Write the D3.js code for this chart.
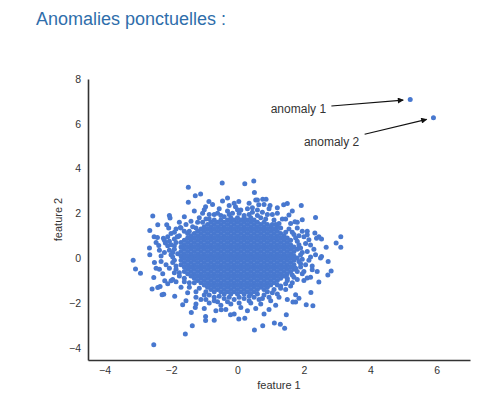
<!DOCTYPE html>
<html>
<head>
<meta charset="utf-8">
<script src="https://cdn.jsdelivr.net/npm/d3@7"></script>
<style>
  body { margin: 0; background: #fff; }
  svg { display: block; font-family: "Liberation Sans", Arial, sans-serif; }
</style>
</head>
<body>
<svg id="chart" width="485" height="397"></svg>
<script>
// dense middle of the cloud, one row per feature 2 value: [feature 2, feature 1 values]
const coreRows = [
  [1.8, [-0.2, 0, 0.2, 0.4]],
  [1.7, [-0.7, -0.5, -0.3, -0.1, 0.1, 0.3, 0.5]],
  [1.6, [-0.8, -0.6, -0.4, -0.2, 0, 0.2, 0.4, 0.6, 0.8]],
  [1.5, [-0.9, -0.7, -0.5, -0.3, -0.1, 0.1, 0.3, 0.5, 0.7, 0.9, 1.05]],
  [1.4, [-1.0, -0.8, -0.6, -0.4, -0.2, 0, 0.2, 0.4, 0.6, 0.8, 1.0, 1.2]],
  [1.3, [-1.1, -0.9, -0.7, -0.5, -0.3, -0.1, 0.1, 0.3, 0.5, 0.7, 0.9, 1.1]],
  [1.2, [-1.2, -1.0, -0.8, -0.6, -0.4, -0.2, 0, 0.2, 0.4, 0.6, 0.8, 1.0, 1.2]],
  [1.1, [-1.5, -1.3, -1.1, -0.9, -0.7, -0.5, -0.3, -0.1, 0.1, 0.3, 0.5, 0.7, 0.9, 1.1, 1.3]],
  [1.0, [-1.4, -1.2, -1.0, -0.8, -0.6, -0.4, -0.2, 0, 0.2, 0.4, 0.6, 0.8, 1.0, 1.2, 1.4]],
  [0.9, [-1.5, -1.3, -1.1, -0.9, -0.7, -0.5, -0.3, -0.1, 0.1, 0.3, 0.5, 0.7, 0.9, 1.1, 1.3, 1.5]],
  [0.8, [-1.6, -1.4, -1.2, -1.0, -0.8, -0.6, -0.4, -0.2, 0, 0.2, 0.4, 0.6, 0.8, 1.0, 1.2, 1.4, 1.6]],
  [0.7, [-1.7, -1.5, -1.3, -1.1, -0.9, -0.7, -0.5, -0.3, -0.1, 0.1, 0.3, 0.5, 0.7, 0.9, 1.1, 1.3, 1.5]],
  [0.6, [-1.6, -1.4, -1.2, -1.0, -0.8, -0.6, -0.4, -0.2, 0, 0.2, 0.4, 0.6, 0.8, 1.0, 1.2, 1.4, 1.6]],
  [0.5, [-1.7, -1.5, -1.3, -1.1, -0.9, -0.7, -0.5, -0.3, -0.1, 0.1, 0.3, 0.5, 0.7, 0.9, 1.1, 1.3, 1.5, 1.7]],
  [0.4, [-1.6, -1.4, -1.2, -1.0, -0.8, -0.6, -0.4, -0.2, 0, 0.2, 0.4, 0.6, 0.8, 1.0, 1.2, 1.4, 1.6, 1.8]],
  [0.3, [-1.7, -1.5, -1.3, -1.1, -0.9, -0.7, -0.5, -0.3, -0.1, 0.1, 0.3, 0.5, 0.7, 0.9, 1.1, 1.3, 1.5, 1.7]],
  [0.2, [-1.8, -1.6, -1.4, -1.2, -1.0, -0.8, -0.6, -0.4, -0.2, 0, 0.2, 0.4, 0.6, 0.8, 1.0, 1.2, 1.4, 1.6]],
  [0.1, [-1.7, -1.5, -1.3, -1.1, -0.9, -0.7, -0.5, -0.3, -0.1, 0.1, 0.3, 0.5, 0.7, 0.9, 1.1, 1.3, 1.5, 1.7]],
  [0.0, [-1.6, -1.4, -1.2, -1.0, -0.8, -0.6, -0.4, -0.2, 0, 0.2, 0.4, 0.6, 0.8, 1.0, 1.2, 1.4, 1.6, 1.8]],
  [-0.1, [-1.7, -1.5, -1.3, -1.1, -0.9, -0.7, -0.5, -0.3, -0.1, 0.1, 0.3, 0.5, 0.7, 0.9, 1.1, 1.3, 1.5, 1.7]],
  [-0.2, [-1.6, -1.4, -1.2, -1.0, -0.8, -0.6, -0.4, -0.2, 0, 0.2, 0.4, 0.6, 0.8, 1.0, 1.2, 1.4, 1.6]],
  [-0.3, [-1.7, -1.5, -1.3, -1.1, -0.9, -0.7, -0.5, -0.3, -0.1, 0.1, 0.3, 0.5, 0.7, 0.9, 1.1, 1.3, 1.5, 1.7]],
  [-0.4, [-1.6, -1.4, -1.2, -1.0, -0.8, -0.6, -0.4, -0.2, 0, 0.2, 0.4, 0.6, 0.8, 1.0, 1.2, 1.4, 1.6]],
  [-0.5, [-1.5, -1.3, -1.1, -0.9, -0.7, -0.5, -0.3, -0.1, 0.1, 0.3, 0.5, 0.7, 0.9, 1.1, 1.3, 1.5, 1.7]],
  [-0.6, [-1.6, -1.4, -1.2, -1.0, -0.8, -0.6, -0.4, -0.2, 0, 0.2, 0.4, 0.6, 0.8, 1.0, 1.2, 1.4, 1.6]],
  [-0.7, [-1.5, -1.3, -1.1, -0.9, -0.7, -0.5, -0.3, -0.1, 0.1, 0.3, 0.5, 0.7, 0.9, 1.1, 1.3, 1.5]],
  [-0.8, [-1.4, -1.2, -1.0, -0.8, -0.6, -0.4, -0.2, 0, 0.2, 0.4, 0.6, 0.8, 1.0, 1.2, 1.4]],
  [-0.9, [-1.3, -1.1, -0.9, -0.7, -0.5, -0.3, -0.1, 0.1, 0.3, 0.5, 0.7, 0.9, 1.1, 1.3, 1.5]],
  [-1.0, [-1.2, -1.0, -0.8, -0.6, -0.4, -0.2, 0, 0.2, 0.4, 0.6, 0.8, 1.0, 1.2]],
  [-1.1, [-1.3, -1.1, -0.9, -0.7, -0.5, -0.3, -0.1, 0.1, 0.3, 0.5, 0.7, 0.9, 1.1]],
  [-1.2, [-1.0, -0.8, -0.6, -0.4, -0.2, 0, 0.2, 0.4, 0.6, 0.8, 1.0, 1.2]],
  [-1.3, [-0.9, -0.7, -0.5, -0.3, -0.1, 0.1, 0.3, 0.5, 0.7, 0.9]],
  [-1.4, [-0.8, -0.6, -0.4, -0.2, 0, 0.2, 0.4, 0.6, 0.8]],
  [-1.5, [-0.7, -0.5, -0.3, -0.1, 0.1, 0.3, 0.5]],
  [-1.6, [-0.4, -0.2, 0, 0.2, 0.4]]
]

// points just outside the dense part, they roughen its edge
const edgePoints = [
  [-1.25, 1.35], [-1.45, 1.2], [-1.05, 1.6], [-0.85, 1.75], [-0.5, 1.9], [0.05, 2.0], [0.35, 1.95],
  [0.6, 1.9], [0.85, 1.75], [1.3, 1.35], [1.45, 1.15], [1.15, 1.5], [-0.25, 1.95],
  [-1.8, 0.95], [-1.9, 0.55], [-1.95, 0.25], [-1.9, -0.1], [-1.85, -0.35], [-1.75, -0.65],
  [-1.6, -0.9], [-1.45, -1.1], [-2.05, 0.75],
  [1.75, 0.9], [1.9, 0.45], [1.95, 0.25], [1.9, -0.25], [1.8, -0.6], [1.7, -0.85], [1.45, -1.15],
  [1.3, -1.25], [1.65, 1.15],
  [-1.15, -1.35], [-0.95, -1.5], [-0.85, -1.65], [-0.55, -1.7], [-0.25, -1.75], [0.05, -1.75],
  [0.35, -1.7], [0.6, -1.6], [0.9, -1.5], [1.1, -1.4], [0.75, -1.8], [-0.7, -1.9]
]

// crowded band around the dense part
const ringPoints = [
  [-0.7, 1.95], [-0.4, 1.85], [-0.15, 2.0], [0.2, 1.9], [0.45, 2.05], [0.7, 1.8], [0.9, 1.95],
  [1.1, 1.7], [1.25, 1.55], [-0.95, 1.75], [-1.2, 1.6], [-1.35, 1.4], [-0.55, 2.2], [0.3, 2.2],
  [0.95, 2.2], [1.2, 2.0], [-0.25, 2.35], [0.6, 2.15], [-1.05, 2.0], [1.45, 1.75],
  [-1.6, 1.2], [-1.75, 1.0], [-1.85, 0.7], [-1.9, 0.4], [-2.0, 0.15], [-1.95, -0.2], [-1.85, -0.5],
  [-1.75, -0.8], [-1.6, -1.05], [-2.1, 0.55], [-2.2, 0.25], [-2.05, -0.45], [-2.25, -0.7],
  [-1.95, -0.95], [-1.55, 1.5], [-1.9, 1.15], [-2.3, -0.15], [-1.45, -1.3], [-2.1, 0.95], [-2.35, 0.35],
  [1.55, 1.3], [1.7, 1.05], [1.8, 0.75], [1.85, 0.45], [1.9, 0.15], [1.85, -0.15], [1.75, -0.45],
  [1.65, -0.75], [1.5, -1.0], [2.0, 0.95], [2.1, 0.3], [2.05, -0.3], [1.95, -0.7], [2.2, 0.05],
  [1.8, 1.35], [2.3, 0.4], [1.6, -1.25], [2.15, -0.1], [1.95, 1.2], [2.0, -1.0],
  [-1.25, -1.5], [-1.0, -1.65], [-0.7, -1.75], [-0.4, -1.8], [-0.1, -1.85], [0.2, -1.8], [0.5, -1.75],
  [0.8, -1.65], [1.05, -1.55], [1.3, -1.35], [-0.85, -2.0], [-0.5, -2.1], [-0.2, -2.05], [0.1, -2.2],
  [0.4, -2.0], [0.7, -2.05], [1.0, -1.9], [-1.1, -1.85], [1.25, -1.75], [0.3, -2.35], [-0.65, -2.35],
  [0.95, -2.3],
  [1.85, 0.6], [1.95, -0.05], [1.9, -0.4], [2.05, 0.65], [2.25, -0.35], [2.35, 0.15], [1.8, -0.95],
  [2.0, -0.6], [2.1, 1.2], [1.85, 1.0], [2.4, -0.6], [2.2, -0.85], [1.8, 1.6], [2.45, 0.95],
  [1.6, 1.55], [1.35, 1.75], [1.05, 1.95], [0.75, 2.05], [0.45, 2.25], [0.1, 2.15], [-0.3, 2.1],
  [-0.6, 2.0], [-0.85, 1.95], [-1.15, 1.8], [-1.4, 1.65], [-0.1, 2.45], [0.35, 2.45], [0.8, 2.4],
  [1.2, 2.25], [-0.75, 2.4], [1.65, 2.1], [-1.3, 2.1], [-1.6, 1.85], [0.55, 2.6], [-0.45, 2.55],
  [-1.7, 1.35], [-1.85, 1.3], [-1.9, 0.85], [-2.0, 0.6], [-2.05, 0.35], [-1.95, 0.05], [-2.15, -0.3],
  [-1.9, -0.65], [-1.85, -1.05], [-1.7, -1.3], [-2.2, 0.8], [-2.3, 0.1], [-2.35, -0.5], [-2.1, -1.15],
  [-2.0, 1.1], [-1.75, 1.6], [-2.45, 0.7], [-2.5, -0.2],
  [-1.5, -1.55], [-1.25, -1.75], [-0.95, -1.85], [-0.6, -1.95], [-0.3, -1.95], [0.05, -2.0], [0.35, -1.9],
  [0.65, -1.85], [0.95, -1.75], [1.2, -1.6], [1.45, -1.4], [1.65, -1.1], [-1.0, -2.25], [-0.35, -2.3],
  [0.55, -2.25], [1.15, -2.1], [1.5, -1.85], [-1.55, -1.9], [-0.1, -2.5], [0.8, -2.5], [-1.25, -2.05]
]

// scattered points at the edge of the cloud
const outerPoints = [
  [-0.46, 3.35], [-1.48, 3.17], [-1.27, 2.79], [-1.11, 2.86], [-1.48, 2.5], [-0.3, 2.68], [-0.86, 2.53],
  [-0.96, 2.3], [-1.0, 2.16], [-2.55, 1.88], [-2.05, 1.9], [-2.03, 1.79], [-2.4, 1.49], [-2.13, 1.49],
  [-2.07, 1.34], [-1.72, 1.37], [-2.64, 1.23], [-2.51, 0.95], [-2.41, 0.92], [-2.23, 0.89], [-1.81, 0.95],
  [-2.65, 0.45], [-2.64, 0.15], [-2.37, 0.56], [-2.17, 0.67], [-0.06, 2.3], [0, 2.16],
  [0.22, 3.32], [0.49, 3.45], [0.51, 2.93], [0.6, 2.6], [0.76, 2.63], [0.86, 2.63], [0.64, 2.38],
  [0.98, 2.35], [0.04, 2.53], [1.5, 2.44], [1.39, 2.38], [1.92, 2.35], [2.35, 1.81], [1.95, 1.71],
  [1.55, 1.93], [1.73, 1.63], [2.33, 1.12], [2.38, 0.89], [2.53, 0.85], [3.11, 0.96], [2.97, 0.67],
  [3.11, 0.49], [2.67, 0.49], [2.53, 0.07], [2.1, 1.04], [2.15, 0.82], [2.2, 0.59],
  [-3.14, -0.1], [-3.07, -0.49], [-2.92, -0.67], [-2.45, -0.45], [-2.52, -0.87], [-2.57, -1.38],
  [-2.4, -1.31], [-2.33, -1.27], [-2.22, -1.61], [-2.27, -1.64], [-2.19, -1.01], [-2.0, -1.01],
  [-1.89, -1.7], [-1.65, -2.08], [-1.39, -2.43], [-1.27, -2.21], [-0.96, -2.61], [-0.96, -2.79],
  [-0.7, -2.77], [-1.36, -3.02], [-1.57, -3.39], [-2.52, -3.87], [-0.21, -2.53], [-0.49, -2.31],
  [2.73, -0.15], [2.5, 0], [2.82, -0.57], [2.72, -0.75], [2.45, -1.07], [2.21, -1.54], [2.27, -2.13],
  [2.07, -2.08], [1.75, -1.96], [1.67, -1.96], [1.47, -2.53], [1.11, -2.9], [1.29, -2.95], [1.42, -3.13],
  [0.76, -3.02], [0.51, -3.21], [0.04, -2.72], [0.22, -2.68], [1.85, -1.79], [1.75, -1.64],
  [2.25, -0.52], [2.1, -0.89]
]

const anomalyPoints = [[5.2, 7.08], [5.9, 6.27]]
const anomalyLabels = ["anomaly 1", "anomaly 2"]
const labelAnchors = [[1, 6.5], [2, 5]]

const xTicks = [-4, -2, 0, 2, 4, 6]
const yTicks = [-4, -2, 0, 2, 4, 6, 8]

const svg = d3.select("#chart")
const pointColor = "#4878cf"

svg.append("text")
  .attr("x", 36)
  .attr("y", 25)
  .attr("fill", "#2f6eab")
  .style("font-size", "18px")
  .text("Anomalies ponctuelles :")

const x = d3.scaleLinear().domain([-4.5, 7]).range([88, 470])
const y = d3.scaleLinear().domain([-4.55, 8]).range([360, 79])

const allPoints = coreRows
  .flatMap(([yv, xs]) => xs.map((xv) => [xv, yv]))
  .concat(edgePoints, ringPoints, outerPoints, anomalyPoints)

// axes: only left and bottom spines, no tick marks
const xAxis = svg.append("g")
  .attr("transform", `translate(0,${y.range()[0]})`)
  .call(d3.axisBottom(x).tickValues(xTicks).tickSize(0).tickPadding(7))
const yAxis = svg.append("g")
  .attr("transform", `translate(${x.range()[0]},0)`)
  .call(d3.axisLeft(y).tickValues(yTicks).tickSize(0).tickPadding(7))

;[xAxis, yAxis].forEach((g) => {
  g.select(".domain").attr("stroke", "#333").attr("stroke-width", 1.6)
  g.selectAll("text")
    .attr("fill", "#333")
    .style("font-size", "10.5px")
    .style("font-family", "Liberation Sans, Arial, sans-serif")
})

svg.append("text")
  .attr("x", (x.range()[0] + x.range()[1]) / 2)
  .attr("y", 389)
  .attr("text-anchor", "middle")
  .attr("fill", "#333")
  .style("font-size", "11px")
  .text("feature 1")

svg.append("text")
  .attr("transform", `translate(62,${(y.range()[0] + y.range()[1]) / 2}) rotate(-90)`)
  .attr("text-anchor", "middle")
  .attr("fill", "#333")
  .style("font-size", "11px")
  .text("feature 2")

svg.append("g")
  .selectAll("circle")
  .data(allPoints)
  .enter()
  .append("circle")
  .attr("cx", (d) => x(d[0]))
  .attr("cy", (d) => y(d[1]))
  .attr("r", 2.5)
  .attr("fill", pointColor)

// arrow head
svg.append("defs")
  .append("marker")
  .attr("id", "head")
  .attr("viewBox", "0 -5 10 10")
  .attr("refX", 9)
  .attr("refY", 0)
  .attr("markerWidth", 8)
  .attr("markerHeight", 6)
  .attr("markerUnits", "userSpaceOnUse")
  .attr("orient", "auto")
  .append("path")
  .attr("d", "M0,-5L10,0L0,5Z")
  .attr("fill", "#111")

anomalyLabels.forEach((label, i) => {
  const t = svg.append("text")
    .attr("x", x(labelAnchors[i][0]))
    .attr("y", y(labelAnchors[i][1]))
    .attr("fill", "#333")
    .style("font-size", "12px")
    .text(label)
  const box = t.node().getBBox()
  const cx = box.x + box.width / 2
  const cy = box.y + box.height / 2
  const px = x(anomalyPoints[i][0])
  const py = y(anomalyPoints[i][1])
  const dx = px - cx, dy = py - cy
  const len = Math.hypot(dx, dy)
  const ux = dx / len, uy = dy / len
  // leave the text box on its right side, stop short of the point
  const sx = box.x + box.width + 5
  const sy = cy + (sx - cx) * (dy / dx)
  const ex = px - ux * 7
  const ey = py - uy * 7
  svg.append("line")
    .attr("x1", sx).attr("y1", sy)
    .attr("x2", ex).attr("y2", ey)
    .attr("stroke", "#111")
    .attr("stroke-width", 1.1)
    .attr("marker-end", "url(#head)")
})
</script>
</body>
</html>
